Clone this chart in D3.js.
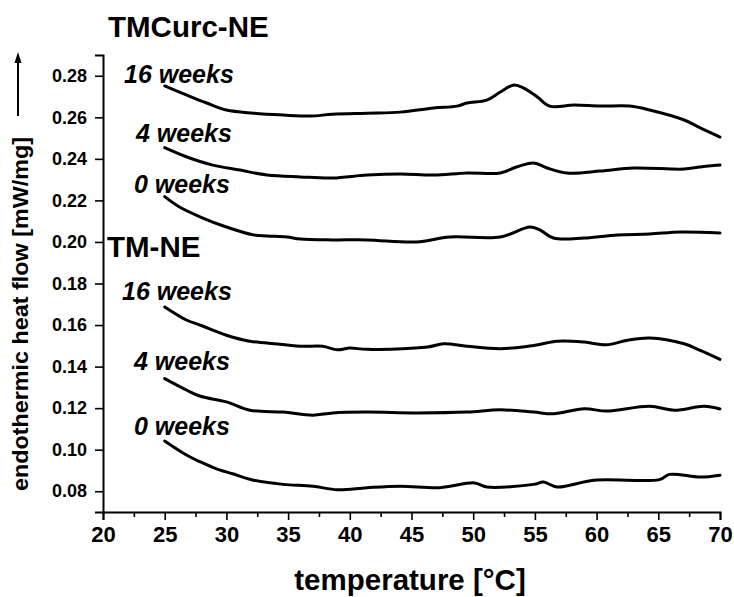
<!DOCTYPE html>
<html>
<head>
<meta charset="utf-8">
<script src="https://cdn.jsdelivr.net/npm/d3@7"></script>
<style>
  html, body { margin: 0; padding: 0; background: #fff; }
  svg { display: block; }
  text { font-family: "Liberation Sans", Arial, sans-serif; font-weight: bold; fill: #000; }
</style>
</head>
<body>
<svg id="chart" width="734" height="597"></svg>
<script>
// ---------- data (temperature °C, heat flow mW/mg) ----------
const xTicks = [20, 25, 30, 35, 40, 45, 50, 55, 60, 65, 70];
const yTicks = [0.08, 0.10, 0.12, 0.14, 0.16, 0.18, 0.20, 0.22, 0.24, 0.26, 0.28];
const yTickLabels = ["0.08", "0.10", "0.12", "0.14", "0.16", "0.18", "0.20", "0.22", "0.24", "0.26", "0.28"];

const tmcurc16 = [[25,0.2751],[26.8,0.2707],[28.4,0.2669],[30,0.2635],[32.2,0.2620],[34.6,0.2611],[36.8,0.2606],
  [38.6,0.2615],[41.4,0.2620],[44.1,0.2625],[46.8,0.2645],[48.7,0.2654],[49.5,0.2669],[51.1,0.2683],[52.2,0.2722],
  [53.3,0.2756],[54.1,0.2741],[55.2,0.2698],[56.2,0.2654],[58.2,0.2659],[60.3,0.2654],[62.7,0.2654],[64.3,0.2635],
  [67.1,0.2587],[68.4,0.2549],[70,0.2505]];
const tmcurc4 = [[25,0.2454],[26.8,0.2409],[28.9,0.2370],[31.1,0.2346],[33.3,0.2322],[36,0.2313],[38.6,0.2308],
  [41.4,0.2322],[44.1,0.2327],[46.8,0.2322],[49.5,0.2332],[52.2,0.2332],[53.5,0.2361],[54.9,0.2380],[56,0.2356],
  [57.6,0.2332],[60.3,0.2341],[63,0.2356],[67.1,0.2351],[68.4,0.2361],[70,0.2370]];
const tmcurc0 = [[25,0.2218],[26.2,0.2168],[27.9,0.2120],[30,0.2072],[32.2,0.2034],[33.3,0.2029],[34.9,0.2024],
  [36,0.2014],[38.6,0.2010],[41.4,0.2010],[45.4,0.2000],[48.1,0.2024],[52.2,0.2024],[54.6,0.2072],[55.4,0.2058],
  [56.5,0.2019],[59,0.2019],[61.7,0.2034],[64.3,0.2038],[66.8,0.2048],[70,0.2043]];
const tm16 = [[25,0.1687],[26.8,0.1623],[27.9,0.1599],[30,0.1551],[31.9,0.1522],[33.3,0.1514],[36,0.1498],
  [37.8,0.1498],[39,0.1481],[40,0.1489],[41.4,0.1483],[46.3,0.1494],[47.6,0.1510],[49.5,0.1498],[52.2,0.1486],
  [54.9,0.1502],[56.8,0.1522],[59,0.1518],[60.8,0.1505],[62.5,0.1527],[64.3,0.1538],[67.1,0.1510],[68.4,0.1478],
  [70,0.1435]];
const tm4 = [[25,0.1342],[26.8,0.1286],[27.9,0.1257],[30,0.1230],[31.9,0.1190],[34.6,0.1181],[37,0.1166],
  [38.6,0.1177],[41.4,0.1181],[45.4,0.1177],[49.5,0.1181],[52.2,0.1192],[54.9,0.1181],[56.5,0.1173],[59,0.1197],
  [60.8,0.1186],[64.3,0.1209],[66.3,0.1190],[68.7,0.1209],[70,0.1196]];
const tm0 = [[25,0.1042],[26.8,0.0973],[27.9,0.0941],[29.2,0.0908],[30.5,0.0884],[32.2,0.0853],[34.6,0.0833],
  [37,0.0824],[39,0.0807],[41.4,0.0817],[44.1,0.0824],[47.3,0.0817],[50.1,0.0840],[51.1,0.0820],[54.9,0.0833],
  [55.7,0.0844],[56.8,0.0820],[59.8,0.0853],[65.1,0.0856],[65.9,0.0881],[68.4,0.0868],[70,0.0877]];

const seriesList = [tmcurc16, tmcurc4, tmcurc0, tm16, tm4, tm0];
const weekLabels = ["16 weeks", "4 weeks", "0 weeks", "16 weeks", "4 weeks", "0 weeks"];
const groupTitles = ["TMCurc-NE", "TM-NE"];

// ---------- layout ----------
const svg = d3.select("#chart");
const x = d3.scaleLinear().domain([20, 70]).range([103, 720]);
const y = d3.scaleLinear().domain([0.07, 0.29]).range([512, 55]);

// axes
const xAxis = d3.axisBottom(x).tickValues(xTicks).tickFormat(d3.format("d")).tickSizeOuter(0).tickSize(8).tickPadding(6);
const gx = svg.append("g").attr("transform", "translate(0,512)").call(xAxis);
gx.select(".domain").attr("stroke-width", 2);
gx.selectAll(".tick line").attr("stroke-width", 1.6);
gx.selectAll(".tick text").style("font-size", "22px").style("font-family", "Liberation Sans, Arial, sans-serif").style("font-weight", "bold");

// minor x ticks
const minor = xTicks.slice(0, -1).map(d => d + 2.5);
const xMinor = d3.axisBottom(x).tickValues(minor).tickFormat("").tickSize(5).tickSizeOuter(0);
const gxm = svg.append("g").attr("transform", "translate(0,512)").call(xMinor);
gxm.select(".domain").remove();
gxm.selectAll(".tick line").attr("stroke-width", 1.6);

const yAxis = d3.axisLeft(y).tickValues(yTicks).tickFormat((d, i) => yTickLabels[i]).tickSizeOuter(0).tickSize(8).tickPadding(8);
const gy = svg.append("g").attr("transform", "translate(103,0)").call(yAxis);
gy.select(".domain").attr("stroke-width", 2);
gy.selectAll(".tick line").attr("stroke-width", 1.6);
gy.selectAll(".tick text").style("font-size", "18px").style("font-family", "Liberation Sans, Arial, sans-serif").style("font-weight", "bold");

// curves
const line = d3.line().x(d => x(d[0])).y(d => y(d[1])).curve(d3.curveCatmullRom.alpha(0.5));
svg.append("g").selectAll("path").data(seriesList).join("path")
  .attr("d", line).attr("fill", "none").attr("stroke", "#000")
  .attr("stroke-width", 3).attr("stroke-linejoin", "round").attr("stroke-linecap", "round");

// week labels
const labelPos = [[124, 83], [136, 142], [134, 193], [122, 300], [134, 370], [134, 435]];
svg.append("g").selectAll("text").data(weekLabels).join("text")
  .attr("x", (d, i) => labelPos[i][0]).attr("y", (d, i) => labelPos[i][1])
  .style("font-size", "25px").style("font-style", "italic").text(d => d);

// group titles
svg.append("text").attr("x", 108).attr("y", 37).style("font-size", "29.5px").text(groupTitles[0]);
svg.append("text").attr("x", 107).attr("y", 257).style("font-size", "29.5px").text(groupTitles[1]);

// axis titles
svg.append("text").attr("x", 410).attr("y", 590).attr("text-anchor", "middle")
  .style("font-size", "29.5px").text("temperature [°C]");
svg.append("text").attr("transform", "translate(28,314) rotate(-90)").attr("text-anchor", "middle")
  .attr("textLength", 354).attr("lengthAdjust", "spacingAndGlyphs")
  .style("font-size", "22px").text("endothermic heat flow [mW/mg]");

// arrow
svg.append("line").attr("x1", 18).attr("x2", 18).attr("y1", 116).attr("y2", 60)
  .attr("stroke", "#000").attr("stroke-width", 2);
svg.append("path").attr("d", "M18,52 L14.5,63 L21.5,63 Z").attr("fill", "#000");
</script>
</body>
</html>
